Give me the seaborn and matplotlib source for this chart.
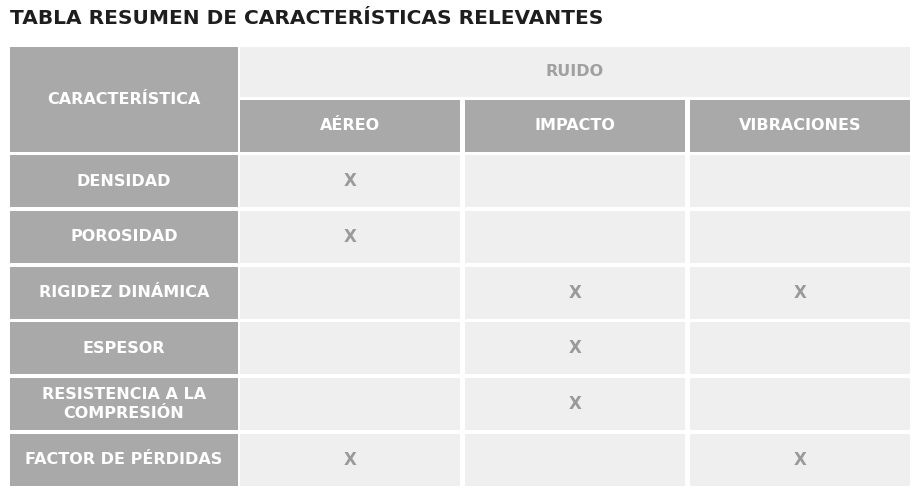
import matplotlib
matplotlib.use("Agg")
import matplotlib.pyplot as plt
from matplotlib.patches import Rectangle
import seaborn as sns

title = "TABLA RESUMEN DE CARACTERÍSTICAS RELEVANTES"
group_header = "RUIDO"
first_header = "CARACTERÍSTICA"
columns = ["AÉREO", "IMPACTO", "VIBRACIONES"]
rows = ["DENSIDAD", "POROSIDAD", "RIGIDEZ DINÁMICA", "ESPESOR",
        "RESISTENCIA A LA\nCOMPRESIÓN", "FACTOR DE PÉRDIDAS"]
marks = [[1, 0, 0], [1, 0, 0], [0, 1, 1], [0, 1, 0], [0, 1, 0], [1, 0, 1]]

sns.set_theme(style="white")
W, H = 920, 492
fig = plt.figure(figsize=(W / 100, H / 100), dpi=100)
ax = fig.add_axes([0, 0, 1, 1])
ax.set_xlim(0, W); ax.set_ylim(H, 0); ax.axis("off")

DARK, LIGHT, XC = "#a9a9a9", "#efefef", "#9a9a9a"
FONT = dict(family="DejaVu Sans", fontweight="bold")

ax.text(10, 18, title, fontsize=14.5, color="#1e1e1e", va="center", ha="left", **FONT)

def cell(x, y, w, h, color, text=None, tc="white", fs=11.5):
    ax.add_patch(Rectangle((x, y), w, h, facecolor=color, edgecolor="none"))
    if text:
        ax.text(x + w / 2, y + h / 2, text, ha="center", va="center", color=tc,
                fontsize=fs, linespacing=1.35, **FONT)

lx, lw = 10, 228
cx0, cw, cg = 240, 220, 5
cell(lx, 47, lw, 105, DARK, first_header)
cell(cx0, 47, 3 * cw + 2 * cg, 50, LIGHT, group_header, tc="#a0a0a0")
for j, c in enumerate(columns):
    cell(cx0 + j * (cw + cg), 100, cw, 52, DARK, c)

y0, rh, rg = 155, 52, 3.8
for i, r in enumerate(rows):
    y = y0 + i * (rh + rg)
    cell(lx, y, lw, rh, DARK, r)
    for j in range(len(columns)):
        cell(cx0 + j * (cw + cg), y, cw, rh, LIGHT, "X" if marks[i][j] else None,
             tc=XC, fs=12)

fig.savefig("out.png", dpi=100)
